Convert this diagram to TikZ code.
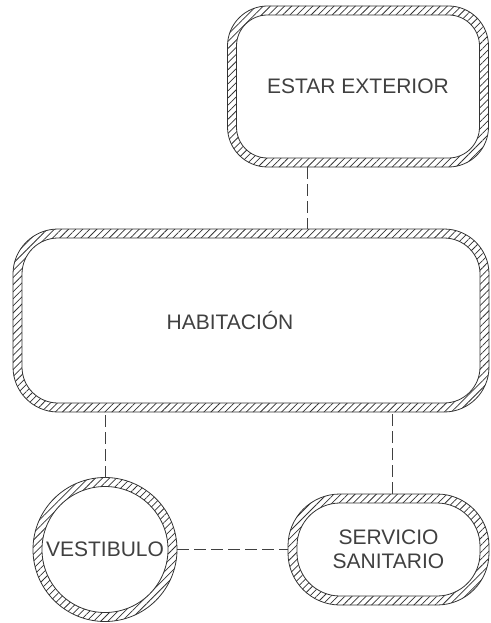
\documentclass[tikz,border=0pt]{standalone}
\usepackage{fontspec}
\setmainfont{Liberation Sans}
\usetikzlibrary{patterns.meta,calc}

\begin{document}
\begin{tikzpicture}[
  x=1pt,
  y=-1pt,
  font=\fontsize{21}{24}\selectfont,
  wall/.style={draw=black!80, line width=0.8pt, inner sep=0pt, outer sep=0pt,
    align=center, text=black!75, pattern color=black!80,
    pattern={Lines[angle=45, distance=5pt, line width=0.75pt]}},
  room/.style={wall, rectangle, rounded corners=#1,
    path picture={\draw[draw=black!80, line width=0.8pt, fill=white, rounded corners=#1-9pt]
      ([shift={(9pt,9pt)}]path picture bounding box.south west) rectangle
      ([shift={(-9pt,-9pt)}]path picture bounding box.north east);}},
  hall/.style={wall, circle, minimum size=2*#1,
    path picture={\draw[draw=black!80, line width=0.8pt, fill=white]
      (path picture bounding box.center) circle[radius=#1-9pt];}},
  link/.style={draw=black!75, line width=0.7pt, dash pattern=on 12pt off 5pt}
]

\useasboundingbox (0,0) rectangle (490,623);

\node[room=40pt, minimum width=261pt, minimum height=161pt] (estar)
  at (358,86.5) {ESTAR EXTERIOR};
\node[room=45pt, minimum width=476pt, minimum height=183pt] (hab)
  at (251,320.5) {HABITACIÓN\hspace*{42pt}};
\node[hall=72pt] (vest) at (105,549.5) {VESTIBULO};
\node[room=52pt, minimum width=201pt, minimum height=111pt] (serv)
  at (388.5,549.5) {SERVICIO\\SANITARIO};

\draw[link] ([xshift=-51pt]estar.south) -- ([xshift=-51pt]estar.south |- hab.north);
\draw[link] (vest.north) -- (vest.north |- hab.south);
\draw[link] ([xshift=4pt]serv.north) -- ([xshift=4pt]serv.north |- hab.south);
\draw[link] (vest.east) -- (serv.west);

\end{tikzpicture}
\end{document}
